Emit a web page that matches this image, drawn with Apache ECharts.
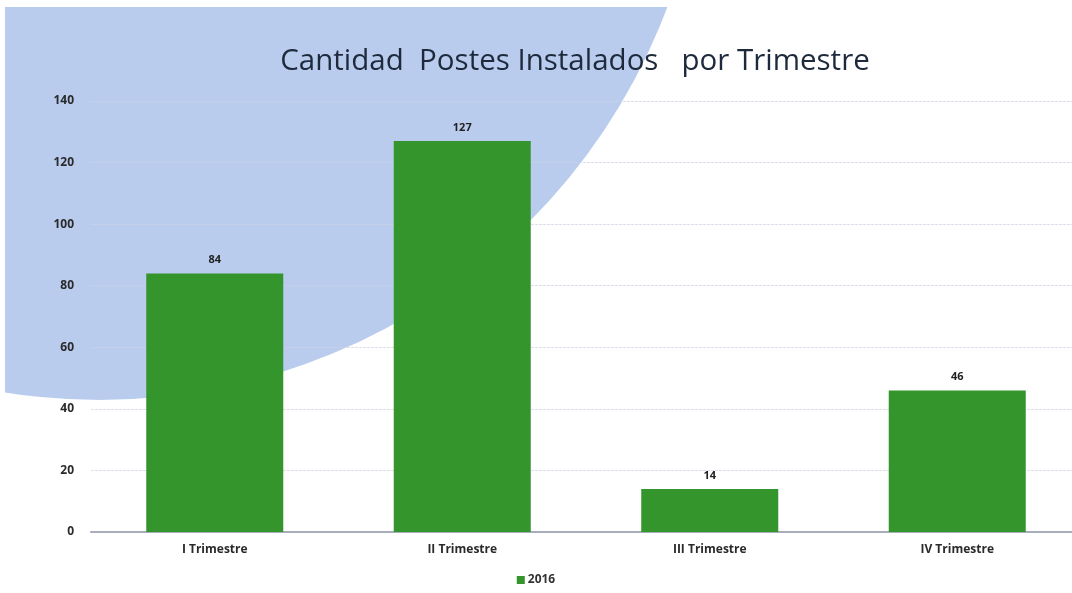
<!DOCTYPE html>
<html>
<head>
<meta charset="utf-8">
<script src="https://cdn.jsdelivr.net/npm/echarts@6/dist/echarts.min.js"></script>
<style>
  html, body { margin: 0; padding: 0; background: #ffffff; }
  #chart { width: 1072px; height: 593px; }
</style>
</head>
<body>
<div id="chart"></div>
<script>
// Postes instalados por trimestre, año 2016
const categories = ['I Trimestre', 'II Trimestre', 'III Trimestre', 'IV Trimestre'];
const seriesName = '2016';
const values = [84, 127, 14, 46];
const yTicks = { min: 0, max: 140, interval: 20 };

const chart = echarts.init(document.getElementById('chart'));

chart.setOption({
  backgroundColor: '#ffffff',
  animation: false,
  title: {
    text: 'Cantidad  Postes Instalados   por Trimestre',
    left: 570,
    textAlign: 'center',
    top: 42,
    textStyle: {
      fontFamily: 'Open Sans',
      fontSize: 29.5,
      fontWeight: 'normal',
      color: '#1e2a3c'
    }
  },
  // decorative light-blue disc behind the plot
  graphic: [
    {
      type: 'circle',
      z: -10,
      silent: true,
      shape: { cx: 100, cy: -206, r: 606 },
      style: { fill: '#b9ccee' }
    },
    {
      type: 'rect',
      z: -9,
      silent: true,
      shape: { x: 0, y: 0, width: 1072, height: 7 },
      style: { fill: '#ffffff' }
    },
    {
      type: 'rect',
      z: -9,
      silent: true,
      shape: { x: 0, y: 0, width: 5, height: 593 },
      style: { fill: '#ffffff' }
    }
  ],
  legend: {
    bottom: 2,
    left: 'center',
    itemWidth: 8,
    itemHeight: 8,
    itemGap: 4,
    icon: 'rect',
    data: [seriesName],
    textStyle: {
      fontFamily: 'Open Sans',
      fontSize: 12,
      fontWeight: 'bold',
      color: '#333333',
      padding: [0, 0, 0, -2]
    }
  },
  grid: {
    left: 91,
    width: 990,
    top: 101,
    bottom: 61,
    containLabel: false,
    outerBoundsMode: 'none'
  },
  xAxis: {
    type: 'category',
    data: categories,
    axisLine: { lineStyle: { color: '#a7adbb', width: 2 } },
    axisTick: { show: false },
    axisLabel: {
      margin: 12,
      fontFamily: 'Open Sans',
      fontSize: 12,
      fontWeight: 'bold',
      color: '#2a2a2a'
    }
  },
  yAxis: {
    type: 'value',
    min: yTicks.min,
    max: yTicks.max,
    interval: yTicks.interval,
    axisLine: { show: false },
    axisTick: { show: false },
    axisLabel: {
      margin: 17,
      fontFamily: 'Open Sans',
      fontSize: 12,
      fontWeight: 'bold',
      color: '#2a2a2a'
    },
    splitLine: {
      lineStyle: { color: 'rgba(205,212,226,0.75)', width: 1, type: [3, 1] }
    }
  },
  series: [
    {
      name: seriesName,
      type: 'bar',
      data: values,
      barWidth: 137,
      itemStyle: { color: '#33952b' },
      label: {
        show: true,
        position: 'top',
        distance: 8,
        fontFamily: 'Open Sans',
        fontSize: 11,
        fontWeight: 'bold',
        color: '#222222'
      }
    }
  ]
});
</script>
</body>
</html>
